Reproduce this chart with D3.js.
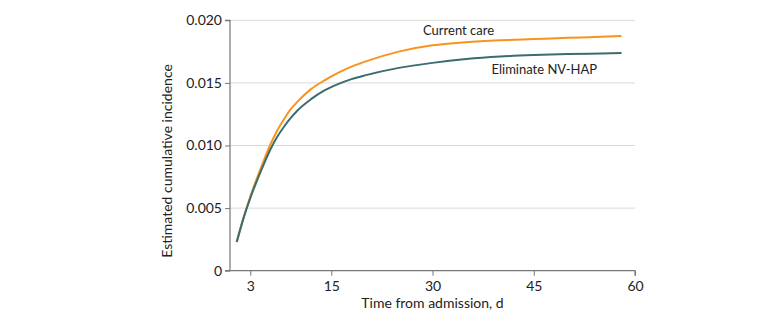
<!DOCTYPE html>
<html><head><meta charset="utf-8">
<script src="https://cdn.jsdelivr.net/npm/d3@7"></script>
<style>
html,body{margin:0;padding:0;background:#fff;}
svg text{font-family:Lato,"Open Sans",sans-serif;fill:#222;}
</style></head>
<body>
<svg id="chart" width="780" height="324"></svg>
<script>
const days = [1, 2, 3, 4, 5, 6, 7, 8, 9, 10, 12, 14, 16, 18, 20, 25, 30, 35, 40, 45, 50, 55, 58];
const currentCare = [0.0023, 0.0042, 0.0059, 0.0074, 0.0088, 0.0101, 0.0112, 0.0121, 0.0129, 0.0135, 0.0145, 0.0152, 0.0158, 0.0163, 0.0167, 0.0175, 0.0180, 0.01825, 0.0184, 0.0185, 0.0186, 0.01868, 0.01875];
const eliminateNVHAP = [0.0023, 0.0042, 0.0058, 0.0072, 0.0085, 0.0097, 0.0107, 0.0115, 0.0122, 0.0128, 0.0137, 0.0144, 0.0149, 0.0153, 0.0156, 0.0162, 0.0166, 0.0169, 0.0171, 0.01722, 0.0173, 0.01735, 0.01738];
const xTicks = [3, 15, 30, 45, 60];
const yTicks = [0, 0.005, 0.010, 0.015, 0.020];
const yTickLabels = ["0", "0.005", "0.010", "0.015", "0.020"];
const seriesNames = ["Current care", "Eliminate NV-HAP"];
const colors = ["#F7941E", "#3B6D6C"];

const svg = d3.select("#chart");
const x = d3.scaleLinear().domain([0, 60]).range([230, 635]);
const y = d3.scaleLinear().domain([0, 0.020]).range([270.7, 20.3]);

// gridlines
svg.append("g").selectAll("line").data(yTicks.filter(d => d > 0)).join("line")
  .attr("x1", x(0)).attr("x2", x(60))
  .attr("y1", d => y(d)).attr("y2", d => y(d))
  .attr("stroke", "#d9d9d9").attr("stroke-width", 1);

// axes
const yAxis = d3.axisLeft(y).tickValues(yTicks).tickFormat((d, i) => yTickLabels[i]).tickSize(5).tickPadding(3);
const gy = svg.append("g").attr("transform", `translate(${x(0)},0)`).call(yAxis);
const xAxis = d3.axisBottom(x).tickValues(xTicks).tickSize(5).tickPadding(5);
const gx = svg.append("g").attr("transform", `translate(0,${y(0)})`).call(xAxis);
[gx, gy].forEach(g => {
  g.select(".domain").attr("stroke", "#777").attr("stroke-width", 1.2);
  g.selectAll(".tick line").attr("stroke", "#777");
  g.selectAll(".tick text").attr("font-size", 14).attr("fill", "#222")
    .style("font-family", 'Lato,"Open Sans",sans-serif');
});
gy.select(".domain").attr("d", `M-5,${y(0)}H0V${y(0.020)}H-5`);
gx.select(".domain").attr("d", `M${x(0)},0H${x(60)}V5`);

// lines
const line = d3.line().x((d, i) => x(days[i])).y(d => y(d)).curve(d3.curveMonotoneX);
[currentCare, eliminateNVHAP].forEach((s, k) => {
  svg.append("path").datum(s).attr("d", line)
    .attr("fill", "none").attr("stroke", colors[k]).attr("stroke-width", 2);
});

// labels
svg.append("text").attr("x", 423).attr("y", 35).attr("font-size", 13).text(seriesNames[0]);
svg.append("text").attr("x", 491.5).attr("y", 73.5).attr("font-size", 13).text(seriesNames[1]);

svg.append("text").attr("x", 432.5).attr("y", 308).attr("text-anchor", "middle")
  .attr("font-size", 14).text("Time from admission, d");
svg.append("text").attr("transform", "translate(172,161) rotate(-90)")
  .attr("text-anchor", "middle").attr("font-size", 14).text("Estimated cumulative incidence");
</script>
</body></html>
